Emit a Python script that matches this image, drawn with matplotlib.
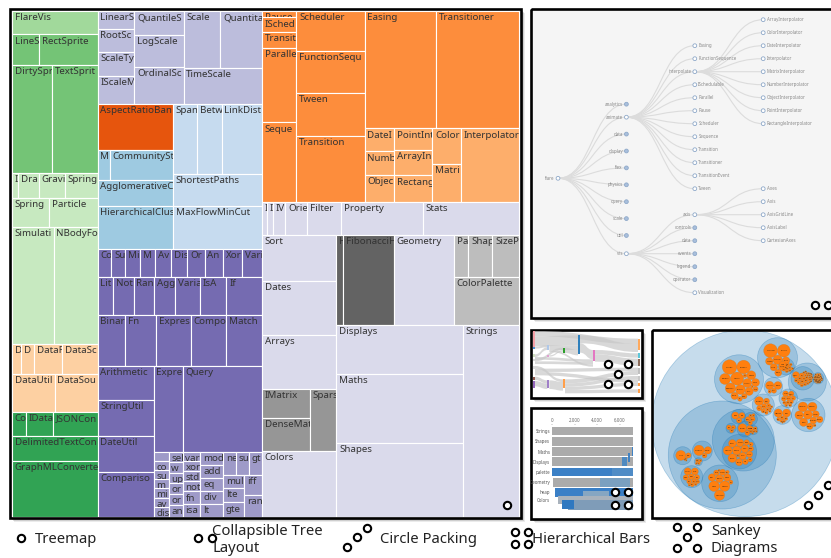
import math

import matplotlib
matplotlib.use("Agg")
import matplotlib.pyplot as plt
from matplotlib.patches import Circle, PathPatch, Rectangle
from matplotlib.path import Path

plt.rcParams["font.family"] = ["Noto Sans", "DejaVu Sans"]

W, H = 831, 558

# flare class sizes, per package
display_names = ["DirtySprite", "LineSprite", "RectSprite", "TextSprite"]
display_sizes = [8833, 1732, 3623, 10066]
flex_names = ["FlareVis"]
flex_sizes = [4116]
physics_names = ["DragForce", "GravityForce", "IForce", "NBodyForce", "Particle", "Simulation", "Spring", "SpringForce"]
physics_sizes = [1082, 1336, 319, 10498, 2822, 9983, 2213, 1681]
data_names = ["DataField", "DataSchema", "DataSet", "DataSource", "DataTable", "DataUtil"]
data_sizes = [1759, 2165, 586, 3331, 772, 3322]
convert_names = ["Converters", "DelimitedTextConverter", "GraphMLConverter", "IDataConverter", "JSONConverter"]
convert_sizes = [721, 4294, 9800, 1314, 2220]
scale_names = ["IScaleMap", "LinearScale", "LogScale", "OrdinalScale", "QuantileScale", "QuantitativeScale",
               "RootScale", "Scale", "ScaleType", "TimeScale"]
scale_sizes = [2105, 1316, 3151, 3770, 2435, 4839, 1756, 4268, 1821, 5833]
optimize_names = ["AspectRatioBanker"]
optimize_sizes = [7074]
cluster_names = ["AgglomerativeCluster", "CommunityStructure", "HierarchicalCluster", "MergeEdge"]
cluster_sizes = [3938, 3812, 6714, 743]
graph_names = ["BetweennessCentrality", "LinkDistance", "MaxFlowMinCut", "ShortestPaths", "SpanningTree"]
graph_sizes = [3534, 5731, 7840, 5914, 3416]
query_names = ["AggregateExpression", "And", "Arithmetic", "Average", "BinaryExpression", "Comparison",
               "CompositeExpression", "Count", "DateUtil", "Distinct", "Expression", "ExpressionIterator", "Fn",
               "If", "IsA", "Literal", "Match", "Maximum", "Minimum", "Not", "Or", "Query", "Range", "StringUtil",
               "Sum", "Variable", "Variance", "Xor"]
query_sizes = [1616, 1027, 3891, 891, 2893, 5103, 3677, 781, 4141, 933, 5130, 3617, 3240, 2732, 2039, 1214, 3748,
               843, 843, 1554, 970, 13896, 1594, 4130, 791, 1124, 1876, 1101]
method_names = ["add", "and", "average", "count", "distinct", "div", "eq", "fn", "gt", "gte", "iff", "isa", "lt",
                "lte", "max", "min", "mod", "mul", "neq", "not", "or", "orderby", "range", "select", "stddev", "sub",
                "sum", "update", "variance", "where", "xor", "_"]
method_sizes = [593, 330, 287, 277, 292, 595, 594, 460, 603, 625, 748, 461, 597, 619, 283, 283, 591, 603, 599, 386,
                323, 307, 772, 296, 363, 600, 280, 307, 335, 299, 354, 264]
animate_names = ["Easing", "FunctionSequence", "ISchedulable", "Parallel", "Pause", "Scheduler", "Sequence",
                 "Transition", "Transitioner", "TransitionEvent", "Tween"]
animate_sizes = [17010, 5842, 1041, 5176, 449, 5593, 5534, 9201, 19975, 1116, 6006]
interp_names = ["ArrayInterpolator", "ColorInterpolator", "DateInterpolator", "Interpolator", "MatrixInterpolator",
                "NumberInterpolator", "ObjectInterpolator", "PointInterpolator", "RectangleInterpolator"]
interp_sizes = [1983, 2047, 1375, 8746, 2202, 1382, 1629, 1675, 2042]
util_names = ["Arrays", "Colors", "Dates", "Displays", "Filter", "Geometry", "IEvaluable", "IPredicate", "IValueProxy",
              "Maths", "Orientation", "Property", "Shapes", "Sort", "Stats", "Strings"]
util_sizes = [8258, 10001, 8217, 12555, 2324, 10993, 335, 383, 874, 17705, 1486, 5559, 19118, 6887, 6557, 22026]
heap_names = ["FibonacciHeap", "HeapNode"]
heap_sizes = [9354, 1233]
matrix_names = ["DenseMatrix", "IMatrix", "SparseMatrix"]
matrix_sizes = [3165, 2815, 3366]
palette_names = ["ColorPalette", "Palette", "ShapePalette", "SizePalette"]
palette_sizes = [6367, 1229, 2059, 2291]

# how the treemap nests its slices, h = side by side, v = stacked
col_display = ["v", "FlareVis", ["h", "LineSprite", "RectSprite"], ["h", "DirtySprite", "TextSprite"],
               ["h", "IForce", "DragForce", "GravityForce", "SpringForce"], ["h", "Spring", "Particle"],
               ["h", "Simulation", "NBodyForce"], ["h", "DataSet", "DataTable", "DataField", "DataSchema"],
               ["h", "DataUtil", "DataSource"], ["h", "Converters", "IDataConverter", "JSONConverter"],
               "DelimitedTextConverter", "GraphMLConverter"]
block_scale = ["h", ["v", "LinearScale", "RootScale", "ScaleType", "IScaleMap"],
               ["v", "QuantileScale", "LogScale", "OrdinalScale"],
               ["v", ["h", "Scale", "QuantitativeScale"], "TimeScale"]]
block_analytics = ["h", ["v", "AspectRatioBanker", ["h", "MergeEdge", "CommunityStructure"], "AgglomerativeCluster",
                         "HierarchicalCluster"],
                   ["v", ["h", "SpanningTree", "BetweennessCentrality", "LinkDistance"], "ShortestPaths",
                    "MaxFlowMinCut"]]
block_methods = ["h", ["v", "_", "count", "sum", "max", "min", "average", "distinct"],
                 ["v", "select", "where", "update", "orderby", "or", "and"],
                 ["v", "variance", "xor", "stddev", "not", "fn", "isa"],
                 ["v", "mod", "add", "eq", "div", "lt"],
                 ["v", ["h", "neq", "sub", "gt"], ["h", ["v", "mul", "lte", "gte"], ["v", "iff", "range"]]]]
block_query = ["v", ["h", "Count", "Sum", "Minimum", "Maximum", "Average", "Distinct", "Or", "And", "Xor", "Variable"],
               ["h", "Literal", "Not", "Range", "AggregateExpression", "Variance", "IsA", "If"],
               ["h", "BinaryExpression", "Fn", "ExpressionIterator", "CompositeExpression", "Match"],
               ["h", ["v", "Arithmetic", "StringUtil", "DateUtil", "Comparison"],
                ["v", ["h", "Expression", "Query"], block_methods]]]
block_animate = ["h", ["v", "Pause", "ISchedulable", "TransitionEvent", "Parallel", "Sequence"],
                 ["v", "Scheduler", "FunctionSequence", "Tween", "Transition"],
                 ["v", ["h", "Easing", "Transitioner"],
                  ["h", ["v", "DateInterpolator", "NumberInterpolator", "ObjectInterpolator"],
                   ["v", "PointInterpolator", "ArrayInterpolator", "RectangleInterpolator"],
                   ["v", "ColorInterpolator", "MatrixInterpolator"], "Interpolator"]]]
block_util = ["v", ["h", "IEvaluable", "IPredicate", "IValueProxy", "Orientation", "Filter", "Property", "Stats"],
              ["h", ["v", "Sort", "Dates", "Arrays", ["h", ["v", "IMatrix", "DenseMatrix"], "SparseMatrix"], "Colors"],
               ["v", ["h", ["h", "HeapNode", "FibonacciHeap"], "Geometry",
                      ["v", ["h", "Palette", "ShapePalette", "SizePalette"], "ColorPalette"]],
                ["h", ["v", "Displays", "Maths", "Shapes"], "Strings"]]]]
treemap_tree = ["h", col_display, ["v", block_scale, block_analytics, block_query], ["v", block_animate, block_util]]

# package -> colour (d3 category20c)
package_colors = [
    (flex_names, "#a1d99b"), (display_names, "#74c476"),
    (physics_names, "#c7e9c0"), (data_names, "#fdd0a2"), (convert_names, "#31a354"),
    (scale_names, "#bcbddc"), (optimize_names, "#e6550d"), (cluster_names, "#9ecae1"), (graph_names, "#c6dbef"),
    (query_names, "#756bb1"), (method_names, "#9e9ac8"), (animate_names, "#fd8d3c"), (interp_names, "#fdae6b"),
    (util_names, "#dadaeb"), (heap_names, "#636363"), (matrix_names, "#969696"), (palette_names, "#bdbdbd"),
]

# collapsible tree
tree_level1 = ["analytics", "animate", "data", "display", "flex", "physics", "query", "scale", "util", "vis"]
tree_level1_rows = [-5.7, -4.7, -3.4, -2.1, -0.8, 0.5, 1.8, 3.1, 4.4, 5.8]
tree_animate = ["Easing", "FunctionSequence", "interpolate", "ISchedulable", "Parallel", "Pause", "Scheduler",
                "Sequence", "Transition", "Transitioner", "TransitionEvent", "Tween"]
tree_interpolate = ["ArrayInterpolator", "ColorInterpolator", "DateInterpolator", "Interpolator", "MatrixInterpolator",
                    "NumberInterpolator", "ObjectInterpolator", "PointInterpolator", "RectangleInterpolator"]
tree_vis = ["axis", "controls", "data", "events", "legend", "operator", "Visualization"]
tree_axis = ["Axes", "Axis", "AxisGridLine", "AxisLabel", "CartesianAxes"]
tree_collapsed = ["analytics", "data", "display", "flex", "physics", "query", "scale", "util",
                  "controls", "events", "legend", "operator"]

# hierarchical bars thumbnail (thousands)
bar_labels = ["Strings", "Shapes", "Maths", "Displays", "palette", "Geometry", "heap", "Colors"]
bar_label_rows = [0, 1, 2, 3, 4, 5, 6, 6.7]
bar_rows = [0, 1, 2, 2, 3, 3, 3, 2.6, 4, 4, 5, 5, 5, 6, 6.25, 6.75, 7.25, 7.2, 7.2]
bar_starts = [0, 0, 0, 7.1, 0, 6.2, 6.65, 6.75, 0, 5.3, 0.1, 4.3, 6.9, 0.25, 2.7, 0.55, 1.4, 0.85, 1.9]
bar_ends = [7.2, 7.2, 7.1, 7.2, 6.2, 6.65, 7.2, 6.95, 5.3, 7.2, 4.3, 6.9, 7.2, 7.2, 5.1, 7.2, 7.2, 2.2, 7.2]
bar_colors = ["#ababab", "#ababab", "#ababab", "#3f82c4", "#ababab", "#4f8ac0", "#ababab", "#3f82c4", "#3b80c6",
              "#4f8cc6", "#ababab", "#7aa0c0", "#ababab", "#3a7fc6", "#86a6c2", "#a9b2bc", "#7f9cb8", "#2f78c0", "#7f9cb8"]
bar_ticks = [0, 2, 4, 6]
bar_tick_labels = ["0", "2,000", "4,000", "6,000"]

# sankey thumbnail: nodes on a small grid, links are (source, target, value)
sankey_x = [15, 15, 15, 15, 15, 15, 15, 58, 58, 58, 105, 105, 150, 195, 330, 330, 330, 330, 330, 330, 330]
sankey_y = [15, 62, 85, 98, 120, 152, 165, 58, 88, 163, 65, 160, 28, 72, 38, 82, 98, 125, 150, 170, 190]
sankey_h = [47, 6, 8, 8, 10, 10, 20, 14, 4, 24, 17, 26, 55, 33, 34, 13, 22, 20, 15, 10, 10]
sankey_colors = ["#f5a0a8", "#4f8fd0", "#d0e0c0", "#d8d8d8", "#d8d8d8", "#8c564b", "#9467bd", "#aec7e8", "#e0a0d0",
                 "#a080c8", "#2ca02c", "#ff9f4a", "#2f80bc", "#e377c2", "#ffa95c", "#5cc6d8", "#8c6d5b", "#c0c0c0",
                 "#c8c8c8", "#ff9f4a", "#ff9f4a"]
sankey_source = [0, 0, 1, 2, 3, 4, 7, 8, 10, 12, 12, 13, 13, 2, 3, 4, 5, 6, 9, 11, 11, 11, 11, 7, 4]
sankey_target = [14, 12, 7, 7, 10, 11, 12, 10, 12, 14, 13, 15, 16, 13, 13, 17, 9, 9, 11, 17, 18, 19, 20, 13, 18]
sankey_value = [16, 30, 6, 8, 8, 8, 14, 4, 16, 24, 28, 13, 22, 8, 8, 10, 10, 16, 26, 12, 10, 10, 10, 6, 10]

# circle packing: the classes that go in each circle
pack_util = [("Arrays", 8258), ("Colors", 10001), ("Dates", 8217), ("Displays", 12555), ("Filter", 2324),
             ("Geometry", 10993), ("Maths", 17705), ("Property", 5559), ("Shapes", 19118), ("Sort", 6887),
             ("Stats", 6557), ("Strings", 22026), ("Orient", 1486), ("IValue", 874), ("Dense", 3165), ("IMat", 2815)]
pack_animate = [("Easing", 17010), ("Transitioner", 19975), ("Transition", 9201), ("Tween", 6006), ("Scheduler", 5593),
                ("Sequence", 5534), ("Parallel", 5176), ("Func", 5842), ("Event", 1116), ("ISched", 1041)]
pack_interp = [("Interp", 8746), ("Matrix", 2202), ("Color", 2047), ("Rect", 2042), ("Array", 1983), ("Point", 1675),
               ("Object", 1629), ("Number", 1382), ("Date", 1375)]
pack_query = [("Query", 13896), ("Comp", 5103), ("Expr", 5130), ("Arith", 3891), ("Date", 4141), ("String", 4130),
              ("Iter", 3617), ("Match", 3748), ("CompEx", 3677), ("Fn", 3240), ("Binary", 2893), ("If", 2732),
              ("IsA", 2039), ("Var", 1876), ("Agg", 1616), ("Range", 1594), ("Not", 1554), ("Lit", 1214),
              ("Var", 1124), ("Xor", 1101), ("And", 1027), ("Or", 970), ("Dist", 933), ("Avg", 891), ("Max", 843),
              ("Min", 843), ("Sum", 791), ("Cnt", 781)]
pack_methods = list(zip(method_names, method_sizes))
pack_display = [("TextSprite", 10066), ("DirtySprite", 8833), ("Rect", 3623), ("Line", 1732)]
pack_scale = [("Time", 5833), ("Quant", 4839), ("Scale", 4268), ("Ord", 3770), ("Log", 3151), ("Quantile", 2435),
              ("IMap", 2105), ("Type", 1821), ("Root", 1756), ("Linear", 1316)]
pack_data = [("Source", 3331), ("Util", 3322), ("Schema", 2165), ("Field", 1759), ("Table", 772), ("Set", 586),
             ("GraphML", 9800), ("Delim", 4294), ("JSON", 2220), ("IData", 1314), ("Conv", 721)]
pack_analytics = [("MaxFlow", 7840), ("Banker", 7074), ("Hier", 6714), ("Paths", 5914), ("Link", 5731), ("Agglo", 3938),
                  ("Comm", 3812), ("Betw", 3534), ("Span", 3416), ("Merge", 743)]
pack_physics = [("NBody", 10498), ("Sim", 9983), ("Particle", 2822), ("Spring", 2213), ("SpringF", 1681),
                ("Gravity", 1336), ("Drag", 1082), ("IForce", 319)]
pack_layout = [("NodeLink", 12870), ("Radial", 12348), ("CircPack", 12003), ("Circle", 9317), ("TreeMap", 9191),
               ("Stacked", 9121), ("Force", 8411), ("Layout", 7881), ("Axis", 6725), ("Icicle", 4864),
               ("Dendro", 4853), ("Bundled", 3727), ("Indent", 3174), ("Pie", 2728), ("Random", 870)]
pack_distort = [("Distort", 6314), ("Bifocal", 4461), ("Fisheye", 3444)]
pack_encoder = [("Prop", 4138), ("Enc", 4060), ("Color", 3179), ("Size", 1830), ("Shape", 1690)]
pack_filter = [("FishTree", 5219), ("Visible", 3509), ("GraphD", 3165)]
pack_label = [("Labeler", 9956), ("Radial", 3899), ("Stacked", 3202)]
pack_operator = [("OpList", 5248), ("OpSeq", 4190), ("OpSw", 2581), ("Op", 2490), ("Sort", 2023), ("IOp", 1286)]
pack_vis_axis = [("Axis", 24593), ("Cartesian", 6703), ("Axes", 1302), ("Grid", 652), ("Label", 636)]
pack_legend = [("Legend", 20859), ("Range", 10530), ("Item", 4614)]
pack_events = [("Data", 2313), ("Sel", 1880), ("Tip", 1701), ("Vis", 1117)]
pack_controls = [("Tooltip", 8435), ("Select", 7862), ("PanZoom", 5222), ("Hover", 4896), ("List", 4665),
                 ("Click", 3824), ("Expand", 2832), ("Drag", 2649), ("Anchor", 2138), ("Ctrl", 1353), ("IC", 763)]
pack_visdata = [("Data", 20544), ("DataList", 19788), ("NodeSprite", 19382), ("Binding", 11275), ("DataSprite", 10349),
                ("Builder", 9930), ("Tree", 7147), ("Edge", 5569), ("EdgeS", 3301), ("Shape", 2247), ("Arrow", 698)]

# where each circle sits on the picture, drawn outermost first
circle_x = [745, 722.3, 743.3, 739.3, 738.3, 750.7, 731, 745, 753.3, 702.3, 682.7, 691.7, 720, 698.3,
            739, 777.5, 786, 807.3, 802.7, 818, 773.3, 788.3, 763.3, 782.3, 808.3]
circle_y = [423.3, 455, 440, 451.7, 416.7, 419, 428.3, 429, 430, 451, 455.7, 476.7, 483.3, 461.7,
            379.3, 357.7, 366.7, 382, 378.3, 378.3, 386.7, 398.3, 405, 415, 415]
circle_r = [93.3, 54, 31, 17.3, 7.3, 6.7, 5, 8, 4.7, 10, 9, 11, 18.3, 4,
            24.5, 20, 8.3, 19, 11.7, 5.7, 9.3, 9.3, 11, 9.3, 16.7]
circle_leaves = [None, None, None, pack_layout, pack_distort, pack_encoder, pack_filter, pack_label, pack_operator,
                 pack_legend, pack_vis_axis, pack_controls, pack_visdata, pack_events,
                 pack_util, pack_animate, pack_interp, None, pack_query, pack_methods, pack_display, pack_scale,
                 pack_data, pack_physics, pack_analytics]

# the little ring markers
ring_x = [507, 815, 828, 608, 628, 618, 608, 628, 615, 628, 615, 628, 808, 818, 828,
          21.3, 198, 211.7, 347, 357, 367, 515, 528, 515, 528, 677, 697, 687, 677, 697]
ring_y = [505, 305, 305, 364, 364, 374, 384, 384, 492, 492, 505, 505, 505, 495, 485,
          537.7, 537.7, 537.7, 547.3, 537, 527.7, 531.7, 531.7, 544, 544, 527, 527, 537, 547.7, 547.7]

captions = ["Treemap", "Collapsible Tree\nLayout", "Circle Packing", "Hierarchical Bars", "Sankey\nDiagrams"]

sizes = {}
for names, vals in [(display_names, display_sizes), (flex_names, flex_sizes), (physics_names, physics_sizes),
                    (data_names, data_sizes), (convert_names, convert_sizes), (scale_names, scale_sizes),
                    (optimize_names, optimize_sizes), (cluster_names, cluster_sizes), (graph_names, graph_sizes),
                    (query_names, query_sizes), (method_names, method_sizes), (animate_names, animate_sizes),
                    (interp_names, interp_sizes), (util_names, util_sizes), (heap_names, heap_sizes),
                    (matrix_names, matrix_sizes), (palette_names, palette_sizes)]:
    sizes.update(zip(names, vals))
colors = {}
for names, color in package_colors:
    colors.update((n, color) for n in names)


def px_axes(fig, x0, y0, x1, y1, **kw):
    return fig.add_axes([x0 / W, 1 - y1 / H, (x1 - x0) / W, (y1 - y0) / H], **kw)


def node_total(node):
    if isinstance(node, str):
        return sizes[node]
    return sum(node_total(k) for k in node[1:])


def draw_treemap(ax, node, x0, y0, x1, y1):
    if isinstance(node, str):
        rect = Rectangle((x0, y0), x1 - x0, y1 - y0, fc=colors[node], ec="white", lw=0.8, zorder=2)
        ax.add_patch(rect)
        if node != "_":
            t = ax.text(x0 + 2.8, y0 + 6.6, node, fontsize=7, color="#333333", va="center", ha="left", zorder=3,
                        clip_on=True)
            t.set_clip_path(rect)
            # long names get cut at the cell edge, same as in the browser
            room = x1 - x0 - 2.8 + 2.2
            label = node
            while len(label) > 1 and t.get_window_extent(renderer).width > room:
                label = label[:-1]
                t.set_text(label)
        return
    total = node_total(node)
    pos = x0 if node[0] == "h" else y0
    for kid in node[1:]:
        share = node_total(kid) / total
        if node[0] == "h":
            step = (x1 - x0) * share
            draw_treemap(ax, kid, pos, y0, pos + step, y1)
        else:
            step = (y1 - y0) * share
            draw_treemap(ax, kid, x0, pos, x1, pos + step)
        pos += step


def frame(ax, x0, y0, x1, y1, face="white"):
    # soft drop shadow, then the black border
    for off, alpha in [(4, 0.08), (3, 0.12), (2, 0.2)]:
        ax.add_patch(Rectangle((x0 + off, y0 + off), x1 - x0, y1 - y0, fc="black", ec="none", alpha=alpha, zorder=0.5))
    ax.add_patch(Rectangle((x0, y0), x1 - x0, y1 - y0, fc=face, ec="none", zorder=1))
    border = Rectangle((x0, y0), x1 - x0, y1 - y0, fc="none", ec="black", lw=1.9, zorder=8)
    ax.add_patch(border)


def link(ax, xa, ya, xb, yb):
    mid = (xa + xb) / 2
    path = Path([(xa, ya), (mid, ya), (mid, yb), (xb, yb)], [Path.MOVETO, Path.CURVE4, Path.CURVE4, Path.CURVE4])
    ax.add_patch(PathPatch(path, fc="none", ec="#dcdcdc", lw=0.8, zorder=2))


def tree_node(ax, name, x, y, left):
    fill = "#a9bfdc" if name in tree_collapsed else "white"
    ax.add_patch(Circle((x, y), 1.9, fc=fill, ec="#8fa9c9", lw=0.6, zorder=3))
    if left:
        ax.text(x - 3.5, y, name, fontsize=3.2, color="#8a8a8a", ha="right", va="center", zorder=3)
    else:
        ax.text(x + 3.5, y, name, fontsize=3.2, color="#8a8a8a", ha="left", va="center", zorder=3)


def draw_children(ax, names, x, y, kids, step):
    # children are centred on their parent, one row apart
    kid_x = x + 68.4
    top = y - (len(names) - 1) * step / 2
    for i, name in enumerate(names):
        kid_y = top + i * step
        link(ax, x, y, kid_x, kid_y)
        sub = kids.get(name)
        tree_node(ax, name, kid_x, kid_y, sub is not None or name in tree_collapsed)
        if sub:
            draw_children(ax, sub, kid_x, kid_y, kids, step)


def pack(radii):
    # greedy packing, every circle goes tangent to two others as near the middle as it can
    placed = [(0.0, 0.0, radii[0])]
    if len(radii) > 1:
        placed.append((radii[0] + radii[1], 0.0, radii[1]))
    for r in radii[2:]:
        cx = sum(p[0] for p in placed) / len(placed)
        cy = sum(p[1] for p in placed) / len(placed)
        best = None
        for i, a in enumerate(placed):
            for b in placed[i + 1:]:
                ra, rb = a[2] + r, b[2] + r
                d = math.hypot(b[0] - a[0], b[1] - a[1])
                if d > ra + rb or d == 0:
                    continue
                u = (ra ** 2 - rb ** 2 + d ** 2) / (2 * d)
                v = math.sqrt(max(ra ** 2 - u ** 2, 0))
                ex, ey = (b[0] - a[0]) / d, (b[1] - a[1]) / d
                for sign in (1, -1):
                    x = a[0] + u * ex - sign * v * ey
                    y = a[1] + u * ey + sign * v * ex
                    if all(math.hypot(x - p[0], y - p[1]) >= p[2] + r - 1e-6 for p in placed):
                        dist = math.hypot(x - cx, y - cy)
                        if best is None or dist < best[0]:
                            best = (dist, x, y)
        placed.append((best[1], best[2], r))
    mx = sum(p[0] * p[2] ** 2 for p in placed) / sum(p[2] ** 2 for p in placed)
    my = sum(p[1] * p[2] ** 2 for p in placed) / sum(p[2] ** 2 for p in placed)
    reach = max(math.hypot(p[0] - mx, p[1] - my) + p[2] for p in placed)
    return [((p[0] - mx) / reach, (p[1] - my) / reach, p[2] / reach) for p in placed]


def draw_pack(ax, clip):
    for cx, cy, r, leaves in zip(circle_x, circle_y, circle_r, circle_leaves):
        c = Circle((cx, cy), r, fc=(31 / 255, 119 / 255, 180 / 255, 0.25), ec=(31 / 255, 119 / 255, 180 / 255, 0.35),
                   lw=0.5, zorder=2)
        ax.add_patch(c)
        c.set_clip_path(clip)
        if leaves is None:
            continue
        leaves = sorted(leaves, key=lambda kv: -kv[1])
        spots = pack([math.sqrt(v) for _, v in leaves])
        for (name, _), (px, py, pr) in zip(leaves, spots):
            lx, ly, lr = cx + px * r * 0.93, cy + py * r * 0.93, pr * r * 0.93
            ax.add_patch(Circle((lx, ly), lr, fc="#ff7f0e", ec="#b8772f", lw=0.15, zorder=3))
            short = name[:max(int(lr * 1.3), 1)]
            ax.text(lx, ly, short, fontsize=1.6, color="#3a2a1a", ha="center", va="center", zorder=4)


def band(ax, xa, ya0, xb, yb0, thick):
    mid = (xa + xb) / 2
    verts = [(xa, ya0), (mid, ya0), (mid, yb0), (xb, yb0), (xb, yb0 + thick), (mid, yb0 + thick),
             (mid, ya0 + thick), (xa, ya0 + thick), (xa, ya0)]
    codes = [Path.MOVETO, Path.CURVE4, Path.CURVE4, Path.CURVE4, Path.LINETO, Path.CURVE4, Path.CURVE4, Path.CURVE4,
             Path.CLOSEPOLY]
    ax.add_patch(PathPatch(Path(verts, codes), fc="#c8c8c8", ec="none", alpha=0.7, zorder=1))


def draw_sankey(fig):
    sk = px_axes(fig, 528, 326, 646, 400)
    sk.set_xlim(0, 354)
    sk.set_ylim(222, 0)
    sk.axis("off")
    sk.patch.set_alpha(0)
    out_used = [0] * len(sankey_x)
    in_used = [0] * len(sankey_x)
    for s, t, v in zip(sankey_source, sankey_target, sankey_value):
        band(sk, sankey_x[s] + 6, sankey_y[s] + out_used[s], sankey_x[t], sankey_y[t] + in_used[t], v)
        out_used[s] += v
        in_used[t] += v
    for x, y, h, c in zip(sankey_x, sankey_y, sankey_h, sankey_colors):
        sk.add_patch(Rectangle((x, y), 6, h, fc=c, ec="none", zorder=2))


def draw_bars(fig):
    # axis is 11.2 px per thousand, rows 10.33 px apart
    bx = px_axes(fig, 552.3, 425, 633, 518)
    bx.set_xlim(0, 7.2)
    bx.set_ylim(8.5, -0.6)
    bx.patch.set_alpha(0)
    bx.barh(bar_rows, [b - a for a, b in zip(bar_starts, bar_ends)], left=bar_starts, height=0.85,
            color=bar_colors, linewidth=0)
    bx.xaxis.tick_top()
    bx.set_xticks(bar_ticks)
    bx.set_xticklabels(bar_tick_labels)
    bx.tick_params(axis="x", labelsize=3.2, length=1, width=0.3, pad=0.5, colors="#666666")
    bx.set_yticks(bar_label_rows)
    bx.set_yticklabels(bar_labels)
    bx.tick_params(axis="y", labelsize=3.2, length=0, pad=1.5, colors="#555555")
    for side in bx.spines.values():
        side.set_visible(False)


fig = plt.figure(figsize=(W / 100, H / 100), dpi=100)
renderer = fig.canvas.get_renderer()
ax = fig.add_axes([0, 0, 1, 1])
ax.set_xlim(0, W)
ax.set_ylim(H, 0)
ax.axis("off")

# treemap
frame(ax, 10, 9, 520.5, 518)
draw_treemap(ax, treemap_tree, 11.7, 11, 519, 516.7)

# collapsible tree
frame(ax, 531, 9, 850, 317.5, face="#f5f5f5")
root_y = 178.3
for name, row in zip(tree_level1, tree_level1_rows):
    y = root_y + row * 13
    link(ax, 558, root_y, 626.4, y)
    tree_node(ax, name, 626.4, y, True)
    if name == "animate":
        draw_children(ax, tree_animate, 626.4, y, {"interpolate": tree_interpolate}, 13)
    if name == "vis":
        draw_children(ax, tree_vis, 626.4, y, {"axis": tree_axis}, 13)
tree_node(ax, "flare", 558, root_y, True)

# sankey and bars thumbnails
frame(ax, 530.8, 329.5, 642, 397.5)
frame(ax, 530.8, 408, 642, 519)
draw_sankey(fig)
draw_bars(fig)

# circle packing
frame(ax, 652, 329.5, 850, 517.8)
pack_clip = Rectangle((652, 329.5), 198, 188.3, transform=ax.transData)
draw_pack(ax, pack_clip)

# captions and ring markers go on top of everything
top = fig.add_axes([0, 0, 1, 1])
top.set_xlim(0, W)
top.set_ylim(H, 0)
top.axis("off")
top.patch.set_alpha(0)
top.scatter(ring_x, ring_y, s=28, facecolors="white", edgecolors="black", linewidths=1.5, zorder=5, clip_on=False)

caption_x = [35, 212, 380, 532, 711]
caption_y = [539.5, 540, 539.5, 539.5, 540]
for label, x, y in zip(captions, caption_x, caption_y):
    top.text(x, y, label, fontsize=10.7, color="#222222", ha="left", va="center", linespacing=1.1)

fig.savefig("out.png", dpi=100)
